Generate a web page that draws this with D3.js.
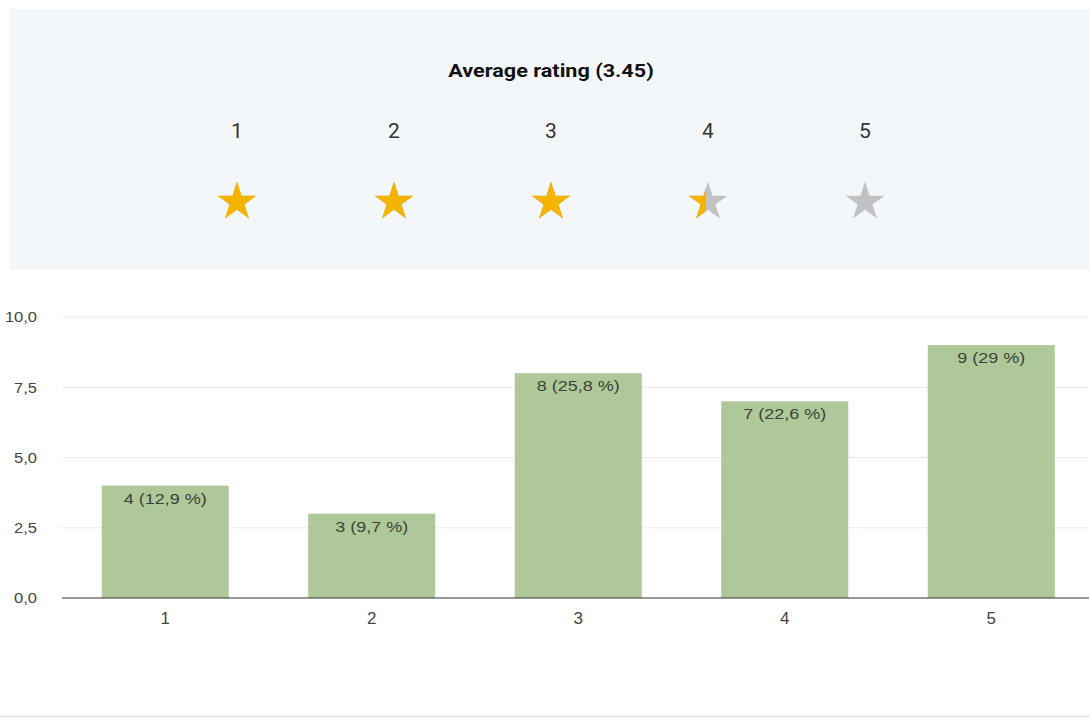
<!DOCTYPE html>
<html lang="en">
<head>
  <meta charset="UTF-8">
  <title>Average rating</title>
  <script src="https://d3js.org/d3.v7.min.js"></script>
  <style>
    body {
      margin: 0;
      padding: 0;
      background: #fff;
      font-family: Arial, "Liberation Sans", sans-serif;
    }
    svg { display: block; }
  </style>
</head>
<body>
  <div id="chart"></div>
  <script>
    // data
    const ratings = ["1", "2", "3", "4", "5"];
    const counts = [4, 3, 8, 7, 9];
    const percents = ["12,9", "9,7", "25,8", "22,6", "29"];
    const averageRating = 3.45;
    const yTicks = [0, 2.5, 5, 7.5, 10];

    const width = 1089;
    const height = 718;
    const stretch = 1.2; // text in the original is a little wide

    const svg = d3.select("#chart")
      .append("svg")
      .attr("width", width)
      .attr("height", height);

    // top panel with the stars
    svg.append("rect")
      .attr("x", 10).attr("y", 9)
      .attr("width", width - 10).attr("height", 261)
      .attr("fill", "#f4f7fa");

    svg.append("text")
      .attr("transform", `translate(551,77) scale(${stretch},1)`)
      .attr("text-anchor", "middle")
      .style("font-family", "Roboto, sans-serif")
      .style("font-weight", "bold")
      .style("font-size", "18px")
      .attr("fill", "#111")
      .text(`Average rating (${averageRating})`);

    const xStar = d3.scalePoint()
      .domain(ratings)
      .range([237, 865]);

    const starPath = d3.symbol().type(d3.symbolStar).size(470)();

    const defs = svg.append("defs");
    const starG = svg.selectAll(".star")
      .data(ratings)
      .join("g")
      .attr("class", "star")
      .attr("transform", d => `translate(${xStar(d)},202)`);

    starG.append("text")
      .attr("y", -64)
      .attr("text-anchor", "middle")
      .attr("font-family", "Roboto, sans-serif")
      .attr("font-size", 21)
      .attr("fill", "#333")
      .text(d => d);

    starG.append("path")
      .attr("d", starPath)
      .attr("fill", "#c2c2c4");

    starG.each(function (d, i) {
      const frac = Math.max(0, Math.min(1, averageRating - i));
      if (frac <= 0) return;
      const id = "clip" + i;
      defs.append("clipPath").attr("id", id)
        .append("rect")
        .attr("x", -20).attr("y", -25)
        .attr("width", 40 * frac).attr("height", 50);
      d3.select(this).append("path")
        .attr("d", starPath)
        .attr("fill", "#f5b400")
        .attr("clip-path", `url(#${id})`);
    });

    // bar chart
    const x = d3.scaleBand()
      .domain(ratings)
      .range([62, 1094.5])
      .paddingInner(0.385)
      .paddingOuter(0.1925);

    const y = d3.scaleLinear()
      .domain([0, 10])
      .range([598, 317]);

    // gridlines
    svg.append("g")
      .selectAll("line")
      .data(yTicks.slice(1))
      .join("line")
      .attr("x1", 62).attr("x2", width)
      .attr("y1", d => y(d)).attr("y2", d => y(d))
      .attr("stroke", "#ebebeb")
      .attr("stroke-width", 1);

    const yAxis = svg.append("g")
      .attr("transform", "translate(37,0)")
      .call(d3.axisLeft(y).tickValues(yTicks).tickSize(0)
        .tickFormat(d => d3.format(".1f")(d).replace(".", ",")));
    yAxis.select(".domain").remove();
    yAxis.selectAll("text")
      .attr("x", 0)
      .attr("transform", "scale(1.1,1)")
      .attr("fill", "#444")
      .style("font-size", "15px")
      .style("font-family", "Arial, 'Liberation Sans', sans-serif");

    svg.append("g")
      .selectAll("rect")
      .data(counts)
      .join("rect")
      .attr("x", (d, i) => x(ratings[i]))
      .attr("y", d => y(d))
      .attr("width", x.bandwidth())
      .attr("height", d => y(0) - y(d))
      .attr("fill", "#afc89a");

    svg.append("g")
      .selectAll("text")
      .data(counts)
      .join("text")
      .attr("transform", (d, i) =>
        `translate(${x(ratings[i]) + x.bandwidth() / 2},${y(d) + 18}) scale(${stretch},1)`)
      .attr("text-anchor", "middle")
      .attr("fill", "#3a4434")
      .style("font-size", "15px")
      .text((d, i) => `${d} (${percents[i]} %)`);

    const xAxis = svg.append("g")
      .attr("transform", "translate(0,598)")
      .call(d3.axisBottom(x).tickSize(0).tickPadding(14));
    xAxis.select(".domain")
      .attr("d", `M62,0H${width}`)
      .attr("stroke", "#333")
      .attr("stroke-width", 1.2);
    xAxis.selectAll("text")
      .attr("fill", "#444")
      .style("font-size", "17px")
      .style("font-family", "Arial, 'Liberation Sans', sans-serif");

    // bottom separator
    svg.append("line")
      .attr("x1", 0).attr("x2", width)
      .attr("y1", 716.5).attr("y2", 716.5)
      .attr("stroke", "#e2e5e2")
      .attr("stroke-width", 2);
  </script>
</body>
</html>
